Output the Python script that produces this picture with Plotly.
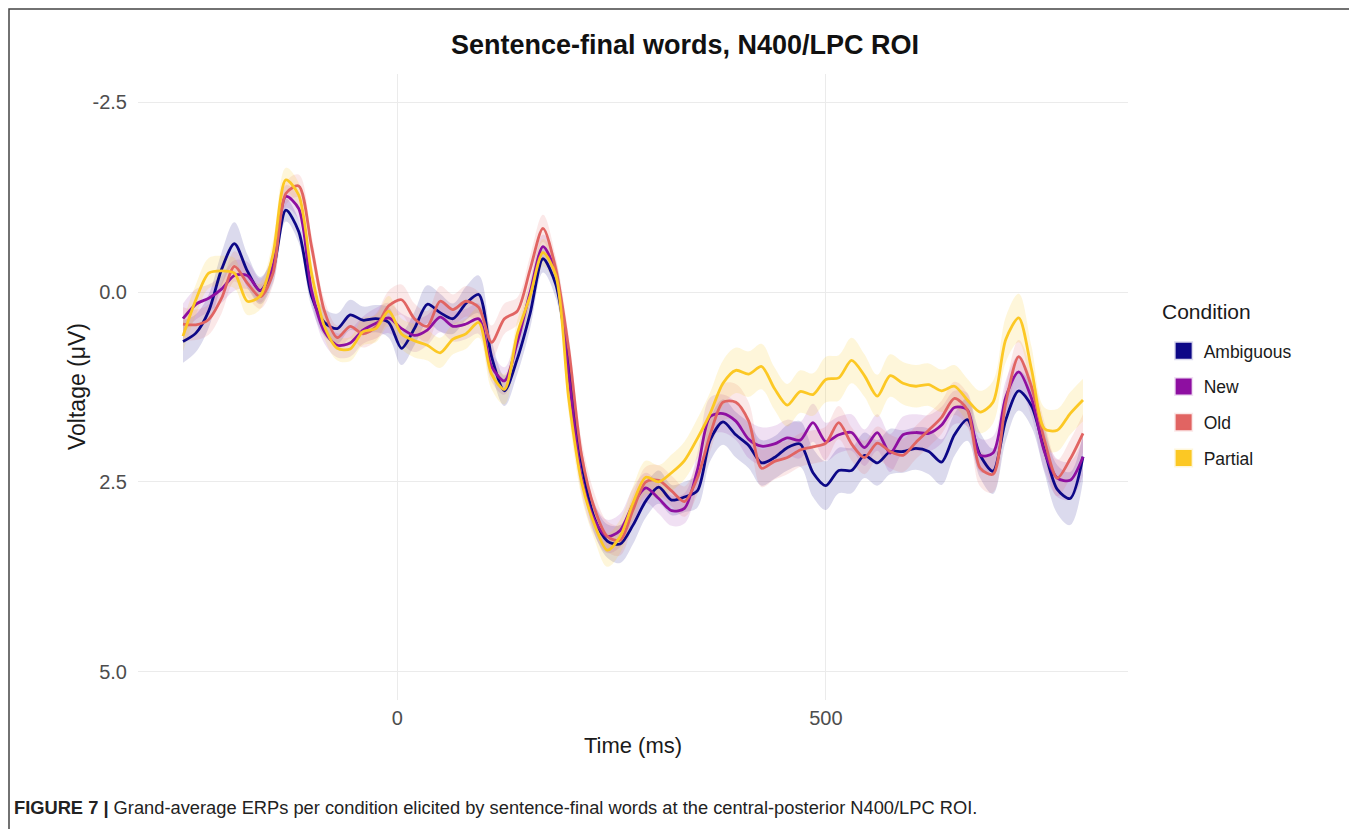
import plotly.graph_objects as go

# time axis (ms), one sample every 15 ms
time_ms = list(range(-250, 801, 15))

conditions = ["Ambiguous", "New", "Old", "Partial"]
colors = ["#0D0887", "#8E0FA1", "#E16462", "#FCC824"]
bands = ["rgba(13,8,135,0.15)", "rgba(142,15,161,0.13)", "rgba(225,100,98,0.15)", "rgba(252,200,36,0.17)"]

# grand-average voltage (µV) per condition
ambiguous = [0.65, 0.54, 0.25, -0.30, -0.64, -0.28, -0.02, -0.30, -1.08, -0.80,
             0.05, 0.40, 0.48, 0.30, 0.37, 0.35, 0.40, 0.74, 0.48, 0.16,
             0.27, 0.35, 0.15, 0.03, 0.85, 1.30, 0.88, 0.28, -0.44, -0.10,
             0.95, 2.25, 2.98, 3.28, 3.32, 3.07, 2.75, 2.57, 2.74, 2.70,
             2.62, 1.95, 1.71, 1.88, 2.02, 2.25, 2.18, 2.05, 2.00, 2.38,
             2.55, 2.35, 2.35, 2.15, 2.25, 2.10, 2.10, 2.06, 2.10, 2.24,
             1.88, 1.68, 2.15, 2.36, 1.68, 1.30, 1.50, 2.08, 2.60, 2.72,
             2.17]
new = [0.35, 0.16, 0.08, -0.04, -0.22, -0.22, -0.02, -0.35, -1.26, -1.10,
       -0.02, 0.52, 0.70, 0.67, 0.50, 0.41, 0.34, 0.48, 0.57, 0.50,
       0.33, 0.45, 0.42, 0.35, 0.98, 1.17, 0.66, 0.00, -0.60, -0.25,
       1.10, 2.45, 3.00, 3.22, 3.14, 2.80, 2.58, 2.72, 2.88, 2.85,
       2.35, 1.64, 1.60, 1.70, 1.94, 2.03, 2.00, 1.92, 1.95, 1.72,
       1.97, 1.88, 1.85, 2.05, 1.85, 2.12, 1.88, 1.85, 1.86, 1.75,
       1.52, 1.55, 2.15, 2.12, 1.38, 1.05, 1.40, 2.10, 2.45, 2.48,
       2.17]
old = [0.42, 0.43, 0.36, 0.08, -0.34, -0.12, 0.06, -0.25, -1.30, -1.40,
       -0.60, 0.25, 0.60, 0.45, 0.55, 0.46, 0.18, 0.10, 0.35, 0.45,
       0.12, 0.23, 0.12, 0.20, 0.66, 0.35, 0.25, -0.30, -0.84, -0.30,
       0.75, 2.15, 2.85, 3.22, 3.27, 2.87, 2.50, 2.48, 2.62, 2.76,
       2.45, 1.88, 1.45, 1.45, 1.70, 2.32, 2.23, 2.18, 2.08, 2.04,
       1.99, 1.72, 2.00, 2.18, 1.99, 2.10, 2.15, 1.98, 1.82, 1.65,
       1.40, 1.55, 2.32, 2.40, 1.45, 0.85, 1.25, 1.95, 2.45, 2.20,
       1.86]
partial = [0.58, 0.10, -0.25, -0.28, -0.25, 0.12, 0.05, -0.50, -1.48, -1.28,
           -0.25, 0.45, 0.74, 0.75, 0.52, 0.48, 0.25, 0.55, 0.64, 0.70,
           0.80, 0.62, 0.55, 0.40, 1.08, 1.28, 0.55, 0.05, -0.52, -0.22,
           1.40, 2.50, 3.06, 3.40, 3.22, 2.78, 2.44, 2.50, 2.38, 2.22,
           1.93, 1.60, 1.20, 1.03, 1.08, 0.98, 1.27, 1.49, 1.31, 1.35,
           1.15, 1.13, 0.90, 1.10, 1.37, 1.10, 1.20, 1.24, 1.22, 1.30,
           1.24, 1.42, 1.58, 1.45, 0.62, 0.34, 1.02, 1.80, 1.82, 1.60,
           1.42]

# standard errors (µV)
ambiguous_se = [0.28, 0.25, 0.22, 0.22, 0.28, 0.22, 0.18, 0.18, 0.15, 0.15,
                0.15, 0.18, 0.20, 0.20, 0.18, 0.18, 0.20, 0.22, 0.22, 0.25,
                0.25, 0.20, 0.22, 0.25, 0.22, 0.20, 0.20, 0.20, 0.18, 0.18,
                0.20, 0.20, 0.20, 0.22, 0.25, 0.25, 0.22, 0.22, 0.20, 0.20,
                0.22, 0.28, 0.30, 0.30, 0.30, 0.30, 0.28, 0.30, 0.30, 0.32,
                0.32, 0.30, 0.30, 0.30, 0.30, 0.30, 0.28, 0.28, 0.30, 0.30,
                0.28, 0.28, 0.30, 0.30, 0.28, 0.26, 0.28, 0.30, 0.32, 0.35,
                0.32]
new_se = [0.20, 0.20, 0.18, 0.18, 0.20, 0.18, 0.16, 0.16, 0.15, 0.15,
          0.15, 0.16, 0.16, 0.18, 0.18, 0.20, 0.20, 0.20, 0.22, 0.20,
          0.20, 0.20, 0.20, 0.20, 0.20, 0.18, 0.16, 0.16, 0.16, 0.16,
          0.18, 0.20, 0.20, 0.22, 0.22, 0.22, 0.20, 0.20, 0.20, 0.20,
          0.22, 0.25, 0.25, 0.25, 0.25, 0.25, 0.24, 0.24, 0.24, 0.25,
          0.25, 0.24, 0.24, 0.24, 0.24, 0.25, 0.24, 0.24, 0.24, 0.24,
          0.22, 0.22, 0.22, 0.22, 0.22, 0.22, 0.24, 0.25, 0.25, 0.25,
          0.25]
old_se = [0.22, 0.20, 0.20, 0.20, 0.20, 0.18, 0.16, 0.16, 0.15, 0.15,
          0.15, 0.15, 0.16, 0.16, 0.18, 0.18, 0.20, 0.20, 0.20, 0.20,
          0.20, 0.20, 0.20, 0.20, 0.22, 0.20, 0.18, 0.18, 0.18, 0.16,
          0.18, 0.20, 0.20, 0.20, 0.20, 0.20, 0.20, 0.20, 0.20, 0.20,
          0.22, 0.22, 0.24, 0.24, 0.25, 0.25, 0.24, 0.22, 0.22, 0.22,
          0.22, 0.22, 0.22, 0.22, 0.22, 0.22, 0.22, 0.22, 0.22, 0.22,
          0.22, 0.22, 0.24, 0.24, 0.22, 0.22, 0.22, 0.24, 0.24, 0.25,
          0.25]
partial_se = [0.20, 0.20, 0.20, 0.20, 0.20, 0.18, 0.18, 0.18, 0.16, 0.16,
              0.16, 0.16, 0.16, 0.16, 0.18, 0.18, 0.20, 0.20, 0.22, 0.20,
              0.20, 0.20, 0.20, 0.20, 0.20, 0.20, 0.18, 0.18, 0.18, 0.18,
              0.20, 0.20, 0.20, 0.22, 0.22, 0.22, 0.22, 0.22, 0.24, 0.25,
              0.26, 0.28, 0.30, 0.30, 0.30, 0.30, 0.28, 0.28, 0.28, 0.28,
              0.30, 0.30, 0.30, 0.28, 0.28, 0.28, 0.28, 0.28, 0.28, 0.28,
              0.28, 0.28, 0.28, 0.28, 0.30, 0.32, 0.30, 0.28, 0.28, 0.28,
              0.28]

means = [ambiguous, new, old, partial]
errors = [ambiguous_se, new_se, old_se, partial_se]

fig = go.Figure()

# SE ribbons first
for name, m, se, band in zip(conditions, means, errors, bands):
    upper = [a - b for a, b in zip(m, se)]
    lower = [a + b for a, b in zip(m, se)]
    fig.add_trace(go.Scatter(x=time_ms, y=upper, mode="lines", line=dict(width=0, shape="spline"),
                             showlegend=False, hoverinfo="skip", legendgroup=name))
    fig.add_trace(go.Scatter(x=time_ms, y=lower, mode="lines", line=dict(width=0, shape="spline"),
                             fill="tonexty", fillcolor=band, showlegend=False, hoverinfo="skip",
                             legendgroup=name))

# mean lines
for name, m, col in zip(conditions, means, colors):
    fig.add_trace(go.Scatter(x=time_ms, y=m, mode="lines", name=name, legendgroup=name,
                             line=dict(color=col, width=2.8, shape="spline", smoothing=0.8),
                             showlegend=False))

# legend keys
for name, col, band in zip(conditions, colors, bands):
    fig.add_trace(go.Scatter(x=[None], y=[None], mode="markers", name=name, legendgroup=name,
                             marker=dict(symbol="square", size=16, color=col,
                                         line=dict(color=band, width=3))))

# the page adds an 8 px body margin, so margins are trimmed by 8 on the left/top
fig.update_layout(
    width=1357, height=829,
    plot_bgcolor="white", paper_bgcolor="white",
    font=dict(family="Liberation Sans, Arial, sans-serif", color="#1a1a1a"),
    margin=dict(l=130, r=237, t=66, b=137, autoexpand=False),
    title=dict(text="<b>Sentence-final words, N400/LPC ROI</b>", x=0.4989, y=0.9554,
               xanchor="center", yanchor="middle", font=dict(size=27, color="#111111")),
    legend=dict(x=1.036, y=0.5863, xanchor="left", yanchor="top", tracegroupgap=10,
                font=dict(size=17.5, color="#1a1a1a"), bgcolor="rgba(0,0,0,0)"),
    showlegend=True,
)

fig.update_xaxes(range=[-302.5, 852.5], tickvals=[0, 500], ticktext=["0", "500"],
                 showgrid=True, gridcolor="#EBEBEB", gridwidth=1.3, zeroline=False,
                 showline=False, ticks="", ticklabelstandoff=4,
                 tickfont=dict(size=20, color="#4D4D4D"),
                 title=dict(text="Time (ms)", font=dict(size=22, color="#1a1a1a"), standoff=9))
fig.update_yaxes(range=[5.375, -2.875], tickvals=[-2.5, 0, 2.5, 5.0],
                 ticktext=["-2.5", "0.0", "2.5", "5.0"],
                 showgrid=True, gridcolor="#EBEBEB", gridwidth=1.3, zeroline=False,
                 showline=False, ticks="", ticklabelstandoff=10,
                 tickfont=dict(size=20, color="#4D4D4D"))

# y axis title
fig.add_annotation(text="Voltage (μV)", x=-0.0616, y=0.5, xref="paper", yref="paper",
                   xanchor="center", yanchor="middle",
                   textangle=-90, showarrow=False, font=dict(size=23, color="#1a1a1a"))

# legend title
fig.add_annotation(text="Condition", x=1.0323, y=0.6206, xref="paper", yref="paper",
                   xanchor="left", yanchor="middle", showarrow=False,
                   font=dict(size=21, color="#1a1a1a"))

# caption
fig.add_annotation(text="<b>FIGURE 7 |</b> Grand-average ERPs per condition elicited by sentence-final words "
                        "at the central-posterior N400/LPC ROI.",
                   x=-0.1273, y=-0.1717, xref="paper", yref="paper", xanchor="left", yanchor="middle",
                   showarrow=False, font=dict(size=18.3, color="#222222"))

# outer frame (left, top, right edges)
fig.add_shape(type="path", xref="paper", yref="paper",
              path="M -0.1303,-0.23 L -0.1303,1.1038 L 1.2242,1.1038 L 1.2242,-0.23",
              line=dict(color="#444444", width=1.5))

fig.write_html("out.html")
